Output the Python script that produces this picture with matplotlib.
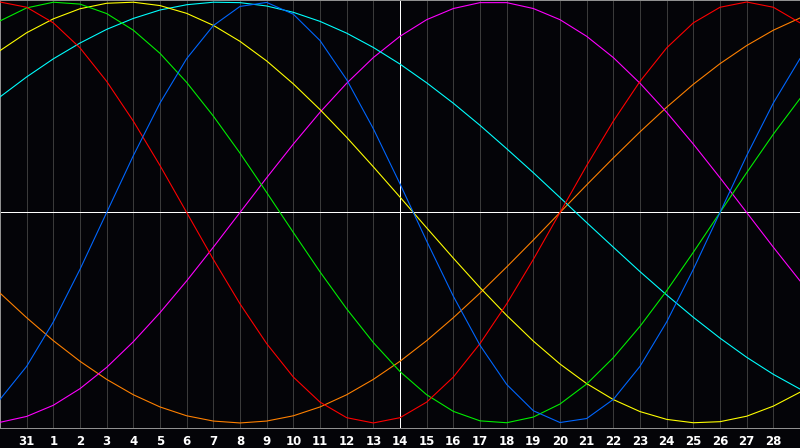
import matplotlib
matplotlib.use("Agg")
from matplotlib import pyplot as plt

# day index across the chart (0 = left edge, 30 = right edge)
days = list(range(31))
day_labels = ["31"] + [str(d) for d in range(1, 29)]
label_pos = list(range(1, 30))

# cycle values in percent at every day line
physical = [-88.8, -73.1, -52.0, -27.0, 0, 27.0, 52.0, 73.1, 88.8, 97.9, 99.8,
            94.2, 81.7, 63.1, 39.8, 13.6, -13.6, -39.8, -63.1, -81.7, -94.2,
            -99.8, -97.9, -88.8, -73.1, -52.0, -27.0, 0, 27.0, 52.0, 73.1]
emotional = [100, 97.5, 90.1, 78.2, 62.3, 43.4, 22.3, 0, -22.3, -43.4, -62.3,
             -78.2, -90.1, -97.5, -100, -97.5, -90.1, -78.2, -62.3, -43.4, -22.3,
             0, 22.3, 43.4, 62.3, 78.2, 90.1, 97.5, 100, 97.5, 90.1]
intellectual = [91.0, 97.2, 99.9, 99.0, 94.5, 86.6, 75.6, 61.8, 45.8, 28.2, 9.5,
                -9.5, -28.2, -45.8, -61.8, -75.6, -86.6, -94.5, -99.0, -99.9, -97.2,
                -91.0, -81.5, -69.0, -54.1, -37.2, -18.9, 0, 18.9, 37.2, 54.1]
intuitive = [-99.7, -96.9, -91.6, -83.7, -73.6, -61.4, -47.6, -32.5, -16.5, 0, 16.5,
             32.5, 47.6, 61.4, 73.6, 83.7, 91.6, 96.9, 99.7, 99.7, 96.9,
             91.6, 83.7, 73.6, 61.4, 47.6, 32.5, 16.5, 0, -16.5, -32.5]
aesthetic = [76.9, 85.4, 92.0, 96.8, 99.4, 99.9, 98.3, 94.6, 88.9, 81.3, 72.0,
             61.1, 48.9, 35.7, 21.7, 7.3, -7.3, -21.7, -35.7, -48.9, -61.1,
             -72.0, -81.3, -88.9, -94.6, -98.3, -99.9, -99.4, -96.8, -92.0, -85.4]
awareness = [-38.3, -50.0, -60.9, -70.7, -79.3, -86.6, -92.4, -96.6, -99.1, -100, -99.1,
             -96.6, -92.4, -86.6, -79.3, -70.7, -60.9, -50.0, -38.3, -25.9, -13.1,
             0, 13.1, 25.9, 38.3, 50.0, 60.9, 70.7, 79.3, 86.6, 92.4]
spiritual = [54.9, 64.4, 73.0, 80.5, 87.0, 92.2, 96.2, 98.7, 99.9, 99.7, 98.1,
             95.1, 90.8, 85.2, 78.4, 70.5, 61.6, 51.9, 41.4, 30.3, 18.9,
             7.1, -4.8, -16.5, -28.1, -39.2, -49.8, -59.7, -68.8, -76.9, -83.9]

series = [
    (awareness, "#ff8000"),
    (intuitive, "#ff00ff"),
    (spiritual, "#00ffff"),
    (aesthetic, "#ffff00"),
    (intellectual, "#00ee00"),
    (emotional, "#ff0000"),
    (physical, "#0066ff"),
]

px = 0.72  # one pixel at 100 dpi

fig = plt.figure(figsize=(8, 4.48), dpi=100, facecolor="#040408")
ax = fig.add_axes([0, 20 / 448, 1, 428 / 448])
ax.set_facecolor("#040408")

for d in label_pos:
    ax.axvline(d, color="#3a3a3a", lw=px, zorder=1)
ax.axvline(15, color="white", lw=px, zorder=2)
ax.axhline(0, color="white", lw=px, zorder=2)

for values, color in series:
    ax.plot(days, [v / 100 for v in values], color=color, lw=px * 1.1, zorder=3)

ax.set_xlim(0, 30)
ax.set_ylim(-1.024, 1.0095)
ax.set_xticks(label_pos)
ax.set_xticklabels(day_labels)
ax.set_yticks([])
ax.tick_params(axis="x", length=0, pad=5, colors="white", labelsize=8.5)
for lbl in ax.get_xticklabels():
    lbl.set_fontweight("bold")
for side in ax.spines.values():
    side.set_color("#909090")
    side.set_linewidth(px)

fig.savefig("out.png", dpi=100, facecolor=fig.get_facecolor())
